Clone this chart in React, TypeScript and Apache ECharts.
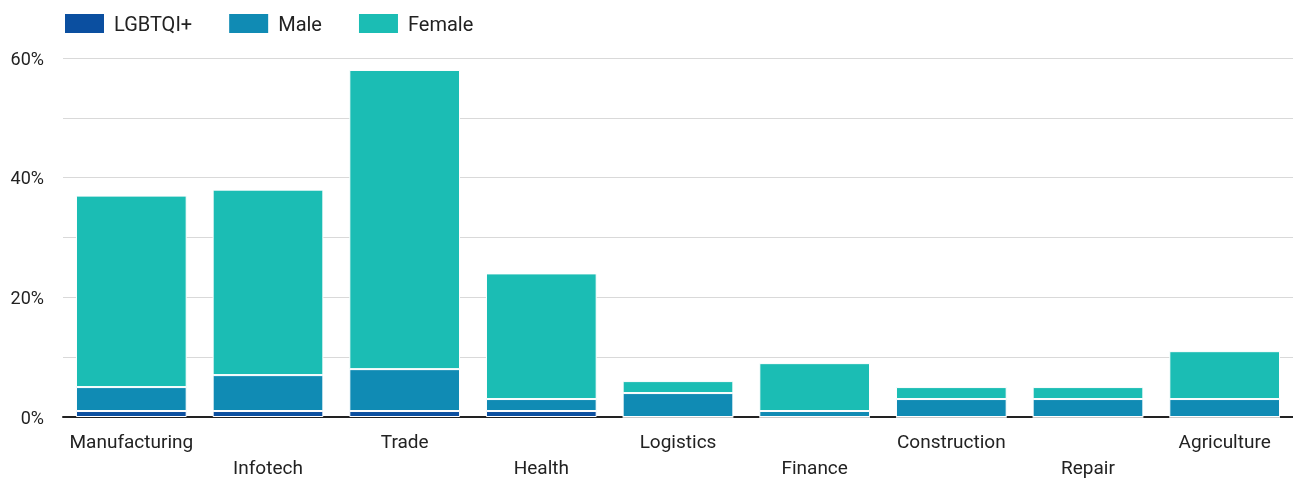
import React, { useEffect, useRef } from "react";
import * as echarts from "echarts";

const categories = ["Manufacturing", "Infotech", "Trade", "Health", "Logistics", "Finance", "Construction", "Repair", "Agriculture"];
const lgbtqi = [1, 1, 1, 1, 0, 0, 0, 0, 0];
const male = [4, 6, 7, 2, 4, 1, 3, 3, 3];
const female = [32, 31, 50, 21, 2, 8, 2, 2, 8];
const seriesNames = ["LGBTQI+", "Male", "Female"];
const colors = ["#0b4fa0", "#108bb4", "#1bbdb4"];

export default function App() {
  const ref = useRef<HTMLDivElement>(null);
  useEffect(() => {
    if (!ref.current) return;
    const chart = echarts.init(ref.current, null, { renderer: "svg" });
    const font = "Roboto";
    const mk = (name: string, data: number[], color: string) => ({
      name,
      type: "bar",
      stack: "total",
      data,
      barCategoryGap: "19%",
      itemStyle: { color, borderColor: "#ffffff", borderWidth: 1 },
    });
    chart.setOption({
      animation: false,
      color: colors,
      textStyle: { fontFamily: font },
      legend: {
        left: 63,
        top: 12,
        padding: 0,
        itemWidth: 41,
        itemHeight: 21,
        itemGap: 35,
        icon: "rect",
        textStyle: { fontFamily: font, fontSize: 20, color: "#222", padding: [0, 0, 0, 4] },
        data: seriesNames,
      },
      grid: { left: 63, right: 0, top: 58, bottom: 58, containLabel: false },
      xAxis: {
        type: "category",
        data: categories,
        axisTick: { show: false },
        axisLine: { lineStyle: { color: "#222", width: 2 } },
        axisLabel: {
          interval: 0,
          fontFamily: font,
          fontSize: 19,
          color: "#222",
          lineHeight: 26,
          margin: 11,
          formatter: (v: string, i: number) => (i % 2 === 1 ? "\n" + v : v),
        },
      },
      yAxis: {
        type: "value",
        min: 0,
        max: 60,
        interval: 10,
        axisLine: { show: false },
        axisTick: { show: false },
        splitLine: { lineStyle: { color: "#d9d9d9", width: 1 } },
        axisLabel: {
          fontFamily: font,
          fontSize: 18,
          color: "#222",
          margin: 19,
          formatter: (v: number) => (v % 20 === 0 ? v + "%" : ""),
        },
      },
      series: [
        mk(seriesNames[0], lgbtqi, colors[0]),
        mk(seriesNames[1], male, colors[1]),
        mk(seriesNames[2], female, colors[2]),
      ],
    });
    return () => chart.dispose();
  }, []);
  return <div ref={ref} style={{ position: "fixed", left: 0, top: 0, width: 1293, height: 480 }} />;
}
